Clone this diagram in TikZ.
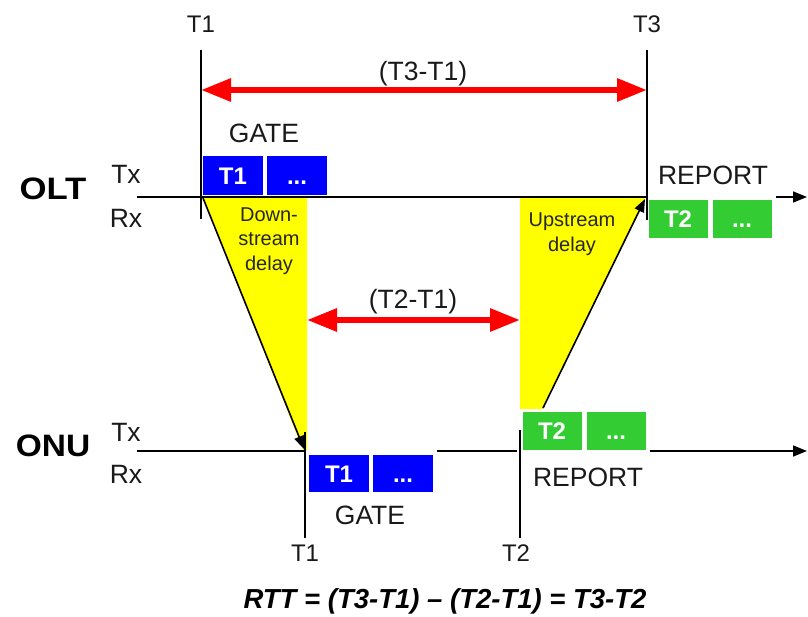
\documentclass[tikz,border=0pt]{standalone}
\usepackage{fontspec}
\setmainfont{Liberation Sans}
\usetikzlibrary{arrows.meta}
\definecolor{myblue}{RGB}{0,0,255}
\definecolor{mygreen}{RGB}{51,204,51}
\definecolor{myyellow}{RGB}{255,255,0}
\definecolor{myred}{RGB}{255,0,0}
\newcommand{\fsz}[1]{\fontsize{#1}{#1}\selectfont}
\begin{document}
\begin{tikzpicture}[x=1pt,y=-1pt,
  lbl/.style={inner sep=0pt, font=\fsz{26.5}, text=black!90},
  tlbl/.style={inner sep=0pt, font=\fsz{24}, text=black!90},
  big/.style={inner sep=0pt, font=\fsz{31}\bfseries, text=black},
  small/.style={inner sep=0pt, font=\fontsize{20}{24.5}\selectfont, align=center, text=black!85},
  bbox/.style={fill=myblue, minimum width=60pt, minimum height=39pt, inner sep=0pt, text=white, font=\fsz{24}\bfseries, text height=17.5pt, text depth=0pt},
  gbox/.style={fill=mygreen, minimum width=59pt, minimum height=38pt, inner sep=0pt, text=white, font=\fsz{24}\bfseries, text height=17.5pt, text depth=0pt},
  ln/.style={line width=1.6pt, black},
  redarr/.style={line width=6pt, myred, {Triangle[length=30pt,width=22pt]}-{Triangle[length=30pt,width=22pt]}},
  blkarr/.style={line width=1.6pt, black, -{Triangle[length=13pt,width=10pt]}},
  ylw/.style={fill=myyellow, draw=none}
]
\useasboundingbox (0,0) rectangle (808,617);

% coordinates
\coordinate (olt0) at (137,197);
\coordinate (oltT3) at (647,197);
\coordinate (oltOutA) at (776,197);
\coordinate (oltOutB) at (807,197);
\coordinate (onu0) at (137,451);
\coordinate (onuA) at (305,451);
\coordinate (onuB) at (437,451);
\coordinate (onuC) at (517,451);
\coordinate (onuD) at (650,451);
\coordinate (onuE) at (807,451);
\coordinate (v1top) at (201,50);
\coordinate (v1bot) at (201,219);
\coordinate (v3top) at (647,50);
\coordinate (v3bot) at (647,220);
\coordinate (w1top) at (305,432);
\coordinate (w1bot) at (305,538);
\coordinate (w2top) at (520,430);
\coordinate (w2bot) at (520,538);
\coordinate (r1) at (201,90);
\coordinate (r3) at (647,90);
\coordinate (m1) at (307,320);
\coordinate (m2) at (520,320);
\coordinate (dsA) at (203,198);
\coordinate (dsB) at (304,449);
\coordinate (usA) at (543,408);
\coordinate (usB) at (645,199);

% yellow delay areas
\fill[ylw] (203,198) -- (307,198) -- (307,450) -- (303,450) -- cycle;
\fill[ylw] (520,198) -- (645,198) -- (543,409) -- (520,409) -- cycle;

% lines
\draw[ln] (olt0) -- (oltT3);
\draw[ln, -{Triangle[length=14pt,width=11pt]}] (oltOutA) -- (oltOutB);
\draw[ln] (onu0) -- (onuA);
\draw[ln] (onuB) -- (onuC);
\draw[ln, -{Triangle[length=14pt,width=11pt]}] (onuD) -- (onuE);
\draw[ln] (v1top) -- (v1bot);
\draw[ln] (v3top) -- (v3bot);
\draw[ln] (w1top) -- (w1bot);
\draw[ln] (w2top) -- (w2bot);

% red arrows
\draw[redarr] (r1) -- (r3);
\draw[redarr] (m1) -- (m2);

% delay arrows
\draw[blkarr] (dsA) -- (dsB);
\draw[blkarr] (usA) -- (usB);

% boxes
\node[bbox] (og1) at (233,176) {T1};
\node[bbox] (og2) at (297,176) {...};
\node[gbox] (or1) at (678,219) {T2};
\node[gbox] (or2) at (742,219) {...};
\node[bbox, minimum height=37pt] (ng1) at (339,473.5) {T1};
\node[bbox, minimum height=37pt] (ng2) at (403,473.5) {...};
\node[gbox] (nr1) at (552,431) {T2};
\node[gbox] (nr2) at (616,431) {...};

% labels
\node[tlbl] (lT1) at (201,24) {T1};
\node[tlbl] (lT3) at (647,24) {T3};
\node[lbl] (l31) at (423,74) {(T3-T1)};
\node[lbl] (lgate1) at (264,133) {GATE};
\node[lbl] (lrep1) at (713,175) {REPORT};
\node[lbl] (ltx1) at (126,174) {Tx};
\node[lbl] (lrx1) at (126,218) {Rx};
\node[big] (lolt) at (53,189) {\scalebox{1.12}[1]{OLT}};
\node[big] (lonu) at (53,446) {\scalebox{1.08}[1]{ONU}};
\node[lbl] (ltx2) at (126,432) {Tx};
\node[lbl] (lrx2) at (126,474) {Rx};
\node[lbl] (l21) at (413,302) {(T2-T1)};
\node[lbl] (lgate2) at (370,515) {GATE};
\node[lbl] (lrep2) at (588,477) {REPORT};
\node[tlbl] (lbT1) at (305,553) {T1};
\node[tlbl] (lbT2) at (516,553) {T2};
\node[small] (lds) at (269,241) {Down-\\stream\\delay};
\node[small] (lus) at (572,234) {Upstream\\delay};
\node[inner sep=0pt, font=\fsz{27.5}\bfseries\itshape] (lf) at (445,601) {RTT = (T3-T1) -- (T2-T1) = T3-T2};
\end{tikzpicture}
\end{document}
